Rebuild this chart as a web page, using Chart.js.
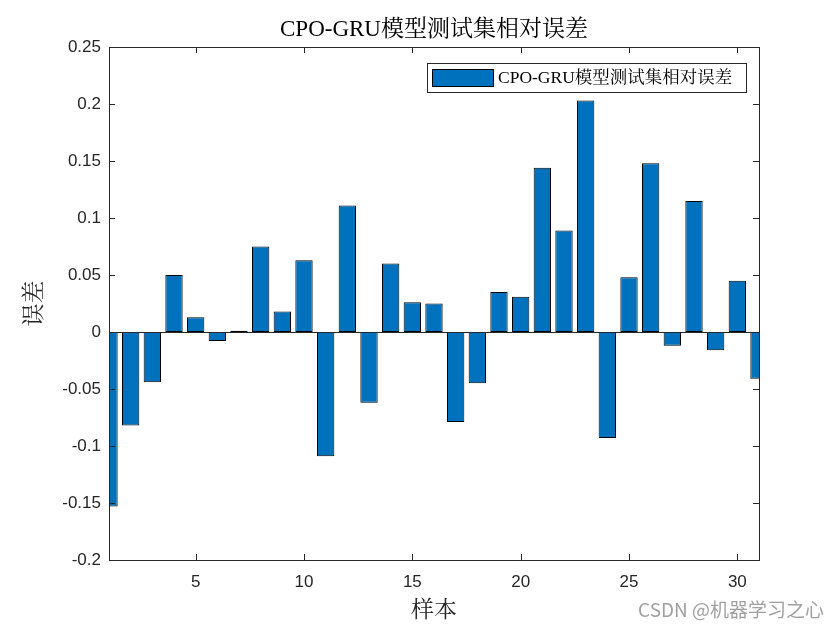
<!DOCTYPE html>
<html>
<head>
<meta charset="utf-8">
<script src="https://cdn.jsdelivr.net/npm/chart.js@4/dist/chart.umd.min.js"></script>
<style>
  html, body { margin: 0; padding: 0; background: #fff; }
  #wrap { width: 840px; height: 630px; }
</style>
</head>
<body>
<div id="wrap"><canvas id="errChart" width="840" height="630"></canvas></div>
<script>
// sample numbers and relative errors
const samples = ['1','2','3','4','5','6','7','8','9','10','11','12','13','14','15','16',
                 '17','18','19','20','21','22','23','24','25','26','27','28','29','30','31'];
const errors = [-0.153, -0.082, -0.044, 0.050, 0.013, -0.008, 0.001, 0.075, 0.018, 0.063,
                -0.109, 0.111, -0.062, 0.060, 0.026, 0.025, -0.079, -0.045, 0.035, 0.031,
                0.144, 0.089, 0.203, -0.093, 0.048, 0.148, -0.012, 0.115, -0.016, 0.045, -0.041];
const yTicks = [-0.2, -0.15, -0.1, -0.05, 0, 0.05, 0.1, 0.15, 0.2, 0.25];
const xTicks = ['5', '10', '15', '20', '25', '30'];

const titleText = 'CPO-GRU模型测试集相对误差';
const serif = '"Liberation Serif", "Noto Serif CJK SC", "Noto Sans CJK SC", serif';
const sans = '"Liberation Sans", Arial, sans-serif';

// frame, inward ticks, zero line, titles and the legend box (MATLAB look)
const matlabFrame = {
    id: 'matlabFrame',
    afterDatasetsDraw(chart) {
        const ctx = chart.ctx;
        const a = chart.chartArea;
        const xs = chart.scales.x, ys = chart.scales.y;
        ctx.save();
        ctx.strokeStyle = '#262626';
        ctx.lineWidth = 1;

        // zero baseline
        const y0 = Math.round(ys.getPixelForValue(0)) + 0.5;
        ctx.beginPath();
        ctx.moveTo(a.left, y0);
        ctx.lineTo(a.right, y0);
        ctx.stroke();

        // box
        ctx.strokeRect(Math.round(a.left) + 0.5, Math.round(a.top) + 0.5,
                       Math.round(a.right - a.left), Math.round(a.bottom - a.top));

        // ticks pointing inward
        ctx.beginPath();
        yTicks.forEach(v => {
            const p = Math.round(ys.getPixelForValue(v)) + 0.5;
            ctx.moveTo(a.left, p); ctx.lineTo(a.left + 6, p);
            ctx.moveTo(a.right, p); ctx.lineTo(a.right - 6, p);
        });
        xTicks.forEach(t => {
            const p = Math.round(xs.getPixelForValue(samples.indexOf(t))) + 0.5;
            ctx.moveTo(p, a.bottom); ctx.lineTo(p, a.bottom - 6);
            ctx.moveTo(p, a.top); ctx.lineTo(p, a.top + 6);
        });
        ctx.stroke();

        // title and axis labels
        ctx.fillStyle = '#000';
        ctx.textAlign = 'center';
        ctx.textBaseline = 'middle';
        ctx.font = '23px ' + serif;
        ctx.fillText(titleText, (a.left + a.right) / 2, 30);
        ctx.fillStyle = '#262626';
        ctx.font = '23px ' + serif;
        ctx.fillText('样本', (a.left + a.right) / 2, 611);
        ctx.save();
        ctx.translate(35, (a.top + a.bottom) / 2);
        ctx.rotate(-Math.PI / 2);
        ctx.fillText('误差', 0, 0);
        ctx.restore();

        // legend inside the top right corner
        ctx.fillStyle = '#fff';
        ctx.fillRect(427, 63, 319, 29);
        ctx.strokeStyle = '#262626';
        ctx.strokeRect(427.5, 63.5, 319, 29);
        ctx.fillStyle = '#0072BD';
        ctx.fillRect(432, 69, 62, 18);
        ctx.strokeStyle = '#000';
        ctx.strokeRect(432.5, 69.5, 61, 17);
        ctx.fillStyle = '#000';
        ctx.textAlign = 'left';
        ctx.font = '17.5px ' + serif;
        ctx.fillText(titleText, 498, 78);

        // watermark
        ctx.fillStyle = 'rgba(150,150,150,0.9)';
        ctx.textAlign = 'right';
        ctx.font = '19px "Noto Sans CJK SC", sans-serif';
        ctx.fillText('CSDN @机器学习之心', 824, 610);
        ctx.restore();
    }
};

new Chart(document.getElementById('errChart').getContext('2d'), {
    type: 'bar',
    data: {
        labels: samples,
        datasets: [{
            label: titleText,
            data: errors,
            backgroundColor: '#0072BD',
            borderColor: '#000',
            borderWidth: 1,
            borderSkipped: false,
            barPercentage: 0.8,
            categoryPercentage: 1.0
        }]
    },
    options: {
        responsive: false,
        animation: false,
        devicePixelRatio: 1,
        layout: { padding: { left: 0, top: 47, right: 81, bottom: 0 } },
        plugins: {
            legend: { display: false },
            tooltip: { enabled: false }
        },
        scales: {
            x: {
                offset: false,
                grid: { display: false, drawTicks: false },
                border: { display: false },
                afterFit(scale) { scale.height = 70; },
                ticks: {
                    autoSkip: false,
                    maxRotation: 0,
                    padding: 12,
                    color: '#262626',
                    font: { family: sans, size: 17 },
                    callback(value) {
                        const lab = samples[value];
                        return xTicks.includes(lab) ? lab : '';
                    }
                }
            },
            y: {
                min: -0.2,
                max: 0.25,
                afterBuildTicks(scale) { scale.ticks = yTicks.map(v => ({ value: v })); },
                afterFit(scale) { scale.width = 109; },
                grid: { display: false, drawTicks: false },
                border: { display: false },
                ticks: {
                    padding: 8,
                    color: '#262626',
                    font: { family: sans, size: 17 },
                    callback(value) { return String(value); }
                }
            }
        }
    },
    plugins: [matlabFrame]
});
</script>
</body>
</html>
